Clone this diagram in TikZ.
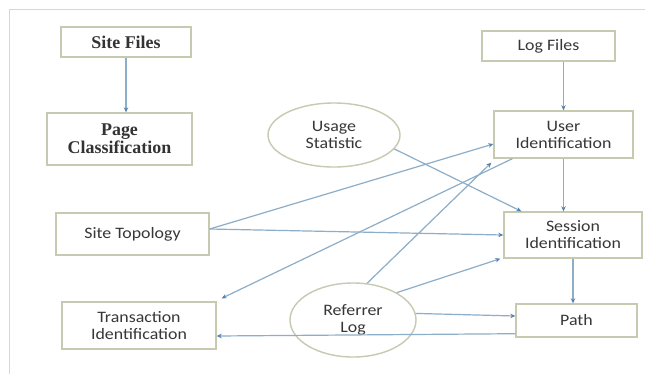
\documentclass[tikz,border=0pt]{standalone}
\usepackage{fontspec}
\setmainfont{Liberation Serif}
\newfontfamily\boxsans[FakeStretch=1.12]{Carlito}
\usetikzlibrary{shapes.geometric,arrows.meta,calc}
\definecolor{linec}{RGB}{140,174,200}
\definecolor{tipc}{RGB}{85,130,172}
\definecolor{boxc}{RGB}{198,202,176}
\definecolor{framec}{RGB}{215,215,215}
\definecolor{txtc}{RGB}{55,55,55}
\tikzset{
  box/.style={draw=boxc,line width=1.4bp,rectangle,inner sep=0pt,align=center,text=txtc,font=\boxsans\fontsize{16}{17}\selectfont},
  serifbox/.style={box,font=\rmfamily\bfseries\fontsize{18}{18}\selectfont,text=black!80},
  oval/.style={draw=boxc,line width=1.4bp,ellipse,inner sep=0pt,align=center,text=txtc,font=\boxsans\fontsize{16}{17}\selectfont},
  conn/.style={draw=linec,line width=1.2bp,-{Stealth[length=5bp,width=4.5bp,color=tipc]}}
}
\begin{document}
\begin{tikzpicture}[x=1bp,y=-1bp]
\useasboundingbox (0,0) rectangle (645,374);
\fill[white] (0,0) rectangle (645,374);
\draw[framec,line width=1bp] (9,374) -- (9,9) -- (645,9);
% nodes
\node[serifbox,minimum width=130bp,minimum height=30bp] (sitefiles) at (126,42) {Site Files};
\node[serifbox,minimum width=145bp,minimum height=52bp] (pageclass) at (119.5,139) {Page\\Classification};
\node[box,minimum width=133bp,minimum height=30bp] (logfiles) at (548.5,46) {Log Files};
\node[box,minimum width=139bp,minimum height=47bp] (userid) at (563.5,134.5) {User\\Identification};
\node[box,minimum width=153bp,minimum height=42bp] (sitetopo) at (132.5,234) {Site Topology};
\node[box,minimum width=154bp,minimum height=47bp] (transid) at (139,325.5) {Transaction\\Identification};
\node[box,minimum width=138bp,minimum height=46bp] (sessid) at (573,235) {Session\\Identification};
\node[box,minimum width=121bp,minimum height=33bp] (path) at (576.5,320.5) {Path};
\node[oval,minimum width=132bp,minimum height=64bp] (usage) at (334,135) {Usage\\Statistic};
\node[oval,minimum width=126bp,minimum height=74bp] (referrer) at (353,320) {Referrer\\Log};
% connectors
\draw[conn] (sitefiles.south) -- (sitefiles.south |- pageclass.north);
\draw[conn] (userid.north |- logfiles.south) -- (userid.north);
\draw[conn] (userid.south) -- (userid.south |- sessid.north);
\draw[conn] (sessid.south) -- (sessid.south |- path.north);
\draw[conn] (usage.-13) -- ([xshift=18bp]sessid.north west);
\draw[conn] ([yshift=5bp]sitetopo.east) -- ([yshift=-9.5bp]userid.west);
\draw[conn] ([yshift=5bp]sitetopo.east) -- (sessid.west);
\draw[conn] ([xshift=19bp]userid.south west) -- ([xshift=5bp,yshift=3bp]transid.north east);
\draw[conn] (referrer.69) -- ([xshift=-2bp,yshift=-4bp]userid.south west);
\draw[conn] (referrer.32) -- ([xshift=-3bp]sessid.south west);
\draw[conn] (referrer.6) -- ([yshift=4.5bp]path.west);
\draw[conn] ([yshift=4bp]path.south west) -- ([yshift=-10.5bp]transid.east);
\end{tikzpicture}
\end{document}
